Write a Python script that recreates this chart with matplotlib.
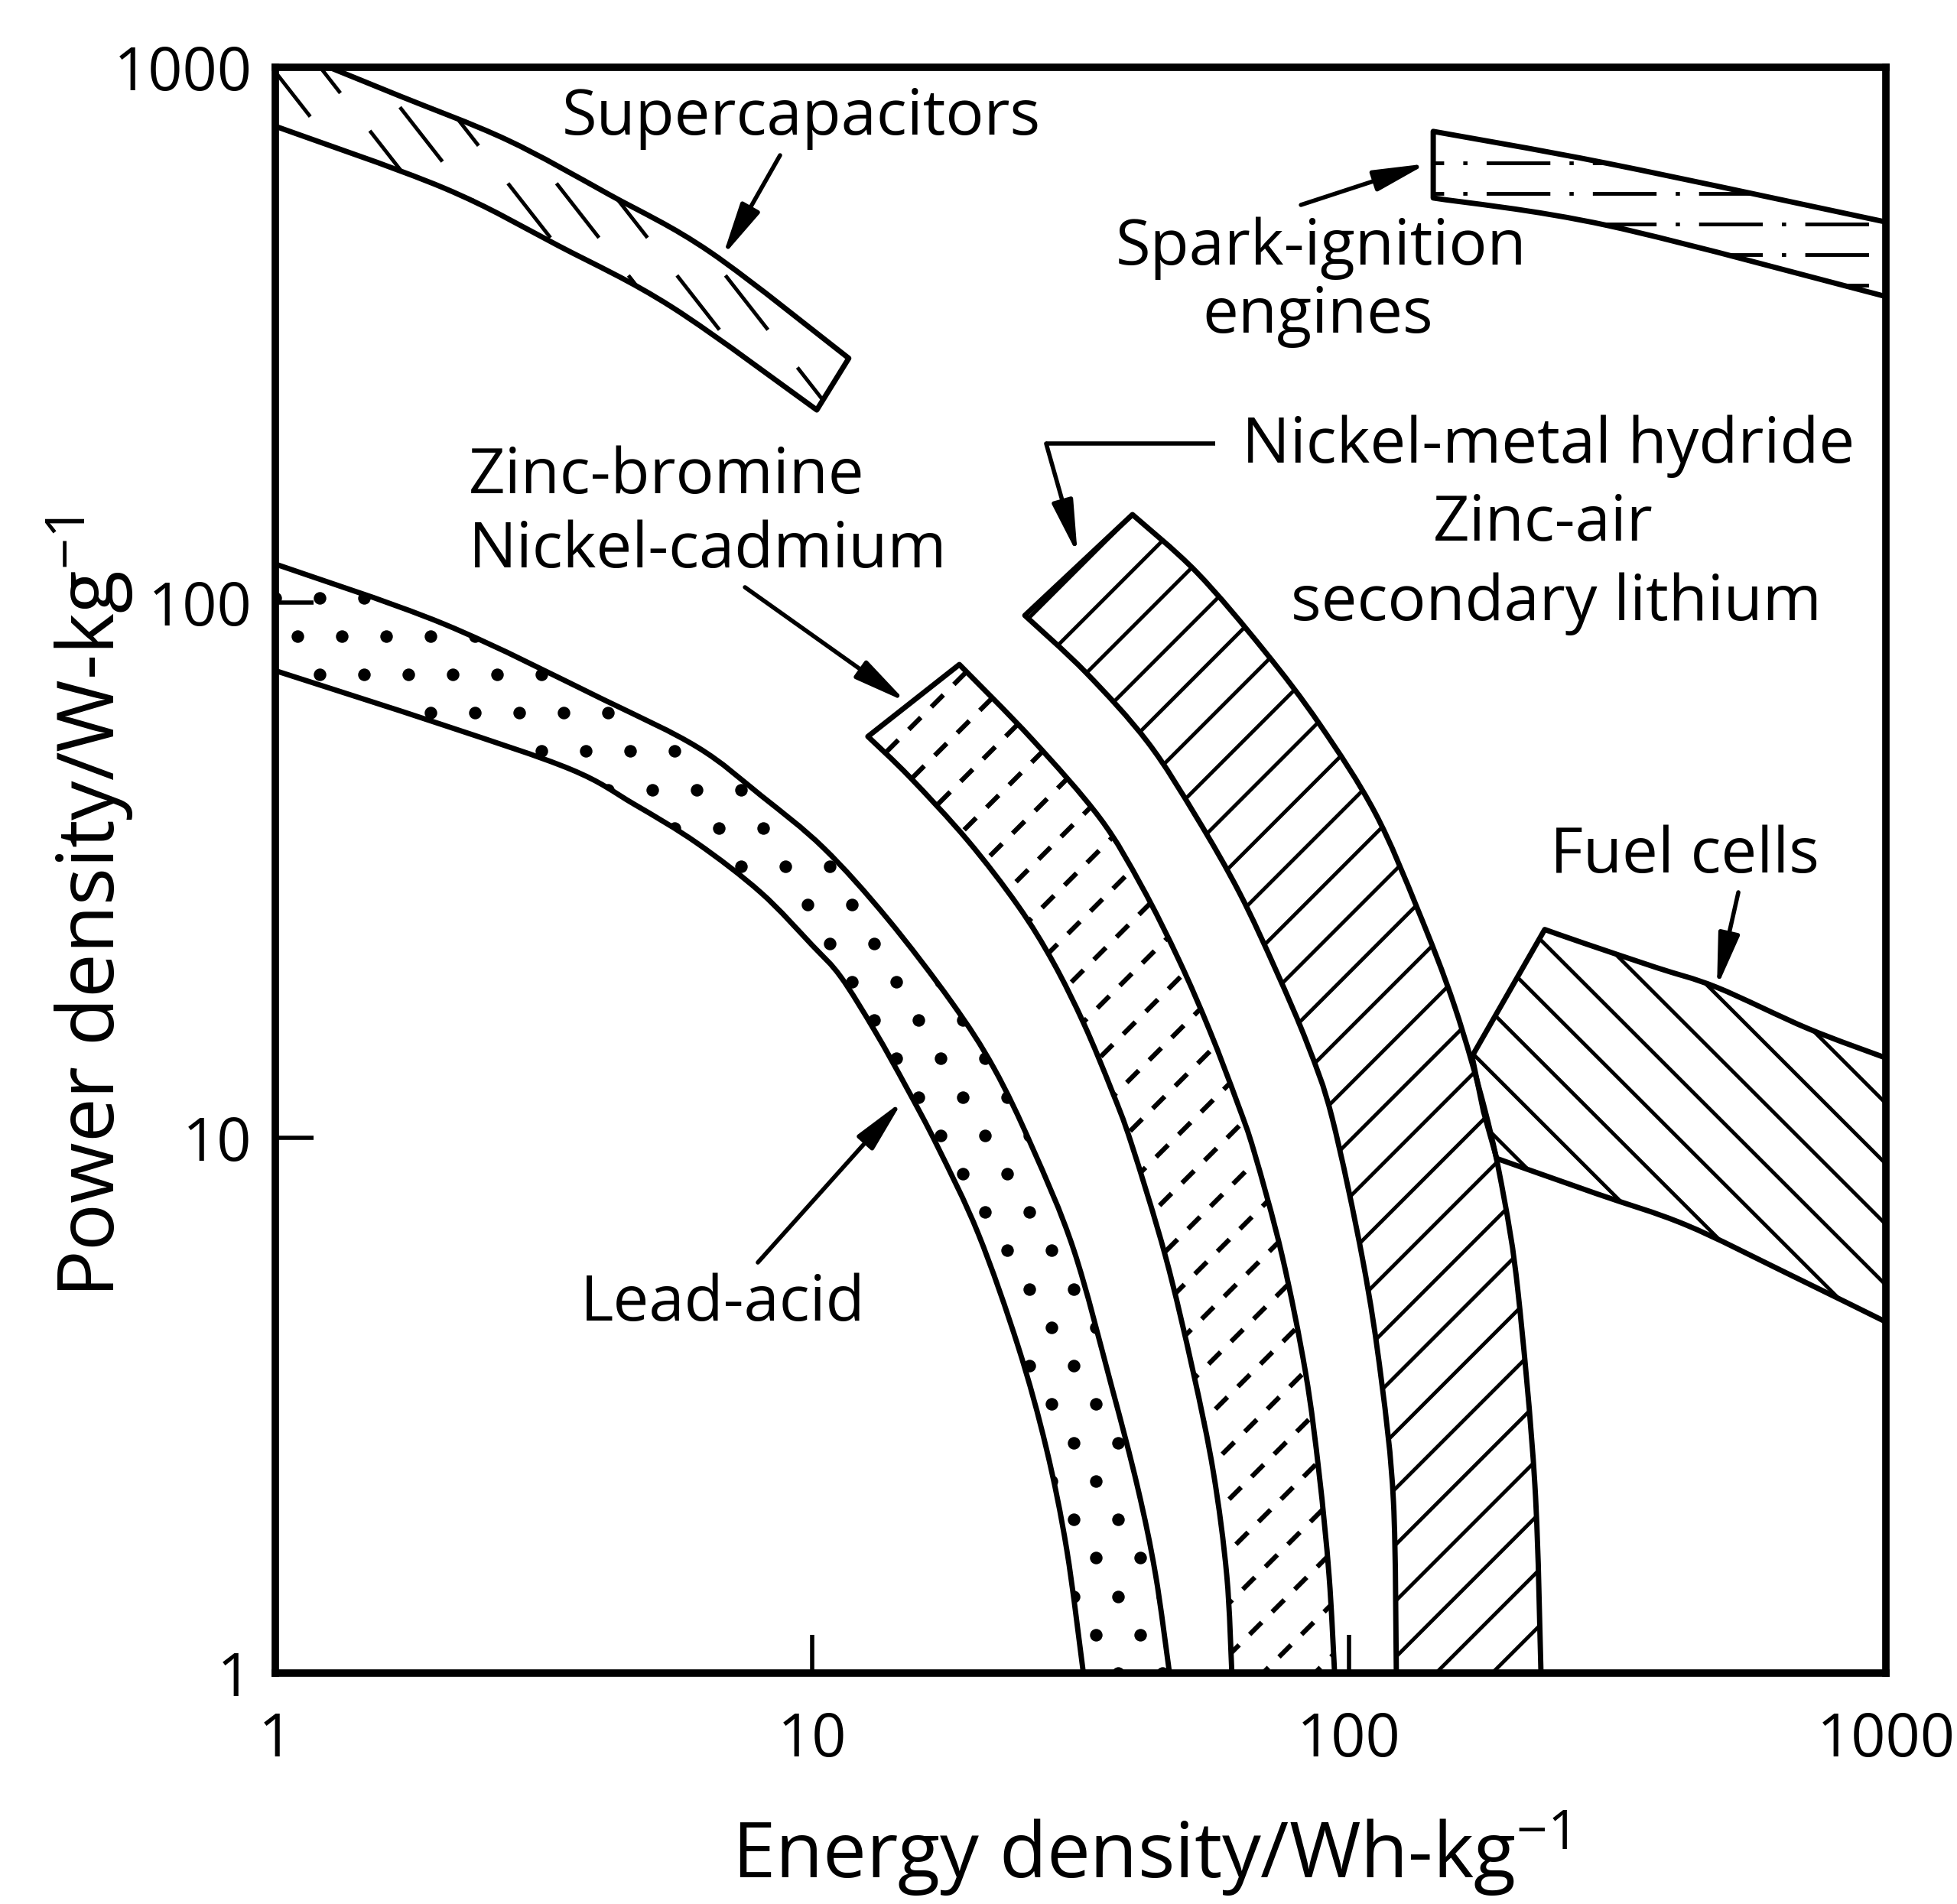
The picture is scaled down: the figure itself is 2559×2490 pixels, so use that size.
import numpy as np
import matplotlib.pyplot as plt
from matplotlib.patches import PathPatch
from matplotlib.path import Path
from matplotlib.collections import LineCollection
from matplotlib.ticker import NullLocator

plt.rcParams['font.family'] = ['Open Sans', 'DejaVu Sans']
plt.rcParams['font.weight'] = 500
plt.rcParams['mathtext.fontset'] = 'custom'
plt.rcParams['mathtext.rm'] = 'Open Sans:medium'
plt.rcParams['mathtext.it'] = 'Open Sans:medium'
plt.rcParams['mathtext.bf'] = 'Open Sans:bold'
plt.rcParams['lines.scale_dashes'] = False

# energy density (Wh/kg) and power density (W/kg)
lead_E_out = [1.0, 2.06, 4.07, 6.11, 8.03, 10.5, 13.8, 18.2, 21.8, 25.7, 30.7, 36.1, 40.4, 43.6, 46.3]
lead_P_out = [118, 91.2, 66.0, 53.7, 43.6, 34.8, 25.7, 17.9, 13.5, 9.6, 6.18, 3.44, 2.22, 1.53, 1.0]
lead_E_in = [1.0, 2.06, 3.55, 4.66, 6.11, 8.03, 10.0, 11.3, 13.1, 15.0, 17.1, 20.4, 24.2, 27.3, 29.8, 32.0]
lead_P_in = [74.6, 59.0, 48.8, 42.0, 35.5, 28.7, 22.9, 20.0, 15.8, 12.4, 9.66, 6.61, 4.07, 2.63, 1.70, 1.0]

nicd_E_out = [18.8, 25.7, 34.4, 41.1, 48.3, 55.1, 62.0, 66.6, 75.0, 83.0, 88.0, 91.8, 94.0]
nicd_P_out = [76.6, 55.5, 39.5, 29.5, 21.4, 15.8, 11.6, 9.40, 6.04, 3.64, 2.35, 1.52, 1.0]
nicd_E_in = [12.7, 15.2, 19.5, 24.2, 28.1, 32.1, 36.1, 39.3, 45.5, 51.2, 55.9, 59.2, 60.5]
nicd_P_in = [56.2, 47.2, 35.9, 27.1, 21.3, 16.3, 12.3, 9.77, 6.01, 3.67, 2.37, 1.52, 1.0]

nimh_E_out = [39.5, 52.0, 69.5, 88.3, 111.8, 134.3, 157.3, 179.4, 194, 206.4, 221.9, 227.8]
nimh_P_out = [146, 114, 81.3, 59.1, 40.5, 26.7, 17.6, 11.2, 7.81, 5.16, 2.25, 1.0]
nimh_E_in = [24.9, 32.4, 42.2, 52.0, 62.5, 73.2, 83.8, 93.0, 106.1, 114.8, 121.0, 122.5]
nimh_P_in = [94.6, 73.9, 54.8, 39.7, 28.7, 20.5, 14.9, 10.9, 5.9, 3.55, 2.09, 1.0]

supcap_E_up = [1.26, 1.70, 2.70, 4.18, 6.47, 11.7]
supcap_P_up = [1000, 885, 732, 579, 451, 286]
supcap_E_lo = [1.0, 2.06, 3.37, 5.49, 10.2]
supcap_P_lo = [776, 595, 464, 356, 229]

spark_E_up = [143.5, 304, 1000]
spark_P_up = [759, 661, 514]
spark_E_lo = [143.5, 304, 1000]
spark_P_lo = [570, 506, 373]

fuel_E_up = [231.5, 273.8, 373.7, 484.5, 716, 1000]
fuel_P_up = [24.5, 23.1, 20.8, 19.1, 16.0, 14.1]
fuel_E_lo = [188.4, 288.4, 424.9, 652.9, 1000]
fuel_P_lo = [9.15, 7.87, 6.87, 5.59, 4.53]
fuel_E_left = [178, 169.5]
fuel_P_left = [11.2, 14.2]

ticks = [1, 10, 100, 1000]
tick_labels = ['1', '10', '100', '1000']

fig = plt.figure(figsize=(25.59, 24.90), dpi=100)
ax = fig.add_axes([360 / 2559, 302 / 2490, 2106 / 2559, 2100 / 2490])
ax.set_xscale('log')
ax.set_yscale('log')
ax.set_xlim(1, 1000)
ax.set_ylim(1, 1000)
AX_W, AX_H = 2106, 2100

EDGE = 5
HLW = 3.5


def curve(E, P, first_code):
    # smooth (Catmull-Rom as cubic Bezier) through the read points, in log space
    q = np.column_stack([np.log10(E), np.log10(P)])
    n = len(q)
    verts, codes = [q[0]], [first_code]
    for i in range(n - 1):
        p0 = q[i - 1] if i > 0 else q[i]
        p3 = q[i + 2] if i + 2 < n else q[i + 1]
        verts += [q[i] + (q[i + 1] - p0) / 6, q[i + 1] - (p3 - q[i]) / 6, q[i + 1]]
        codes += [Path.CURVE4] * 3
    return list(10 ** np.array(verts)), codes


def band(E_a, P_a, E_b, P_b, E_x=(), P_x=()):
    v1, c1 = curve(E_a, P_a, Path.MOVETO)
    v2, c2 = curve(E_b[::-1], P_b[::-1], Path.LINETO)
    verts = v1 + v2 + [np.array([e, p]) for e, p in zip(E_x, P_x)] + [v1[0]]
    codes = c1 + c2 + [Path.LINETO] * len(E_x) + [Path.CLOSEPOLY]
    path = Path(np.array(verts), codes)
    fill = PathPatch(path, facecolor='white', edgecolor='none', zorder=1)
    ax.add_patch(fill)
    edge = PathPatch(path, facecolor='none', edgecolor='black', lw=EDGE,
                     joinstyle='round', zorder=4)
    ax.add_patch(edge)
    return fill


def hatch(patch, angle, spacing, ls='solid', lw=HLW, phase=0.0):
    a = np.deg2rad(angle)
    d = np.array([np.cos(a), np.sin(a)])
    n = np.array([-np.sin(a), np.cos(a)])
    L = np.hypot(AX_W, AX_H)
    c = np.array([AX_W / 2, AX_H / 2])
    segs = []
    for t in np.arange(-L / 2 + phase, L / 2, spacing):
        p0 = c + t * n - d * L / 2
        p1 = c + t * n + d * L / 2
        segs.append([(p0[0] / AX_W, p0[1] / AX_H), (p1[0] / AX_W, p1[1] / AX_H)])
    lc = LineCollection(segs, colors='black', linewidths=lw, linestyles=ls,
                        transform=ax.transAxes, zorder=2, capstyle='butt')
    lc.set_clip_path(patch)
    ax.add_collection(lc)


def dots(patch, spacing, size):
    xs, ys = [], []
    row_h = spacing * np.sqrt(3) / 2
    for j, y in enumerate(np.arange(0, AX_H, row_h)):
        off = spacing / 2 if j % 2 else 0
        for x in np.arange(off, AX_W, spacing):
            xs.append(x / AX_W)
            ys.append(y / AX_H)
    sc = ax.scatter(xs, ys, s=size, c='black', linewidths=0, transform=ax.transAxes, zorder=2)
    sc.set_clip_path(patch)


# lead-acid
p = band(lead_E_out, lead_P_out, lead_E_in, lead_P_in)
dots(p, 58, 140)

# zinc-bromine / nickel-cadmium
p = band(nicd_E_out, nicd_P_out, nicd_E_in, nicd_P_in)
hatch(p, 45, 48, ls=(0, (16, 14)), lw=4.5)

# nickel-metal hydride / zinc-air / secondary lithium
p = band(nimh_E_out, nimh_P_out, nimh_E_in, nimh_P_in)
hatch(p, 45, 52)

# supercapacitors
p = band(supcap_E_up, supcap_P_up, supcap_E_lo, supcap_P_lo, [1.0], [1000])
hatch(p, -52, 50, ls=(0, (65, 45)))

# spark-ignition engines
p = band(spark_E_up, spark_P_up, spark_E_lo, spark_P_lo)
hatch(p, 0, 40, ls=(0, (60, 18, 4, 18)), phase=12)

# fuel cells
p = band(fuel_E_up, fuel_P_up, fuel_E_lo, fuel_P_lo, fuel_E_left, fuel_P_left)
hatch(p, -45, 56)

# axes
for s in ax.spines.values():
    s.set_linewidth(7)
    s.set_zorder(6)
ax.set_xticks(ticks, labels=tick_labels)
ax.set_yticks(ticks, labels=tick_labels)
ax.xaxis.set_minor_locator(NullLocator())
ax.yaxis.set_minor_locator(NullLocator())
ax.tick_params(axis='both', direction='in', length=36, width=4, labelsize=57,
               top=False, right=False)
ax.tick_params(axis='x', pad=35)
ax.tick_params(axis='y', pad=22)

ax.set_xlabel('Energy density/Wh-kg$^{-1}$', fontsize=73)
ax.xaxis.set_label_coords(0.543, -0.128)
ax.xaxis.label.set_va('baseline')
ax.set_ylabel('Power density/W-kg$^{-1}$', fontsize=74)
ax.yaxis.set_label_coords(-0.0997, 0.477)
ax.yaxis.label.set_va('baseline')

FS = 60
labels = [
    ('Supercapacitors', 0.3267, 0.9581, 'center'),
    ('Spark-ignition', 0.6491, 0.8771, 'center'),
    ('engines', 0.6472, 0.8348, 'center'),
    ('Zinc-bromine', 0.1201, 0.7348, 'left'),
    ('Nickel-cadmium', 0.1201, 0.6886, 'left'),
    ('Nickel-metal hydride', 0.7906, 0.7538, 'center'),
    ('Zinc-air', 0.7873, 0.7052, 'center'),
    ('secondary lithium', 0.7953, 0.6557, 'center'),
    ('Fuel cells', 0.8751, 0.4986, 'center'),
    ('Lead-acid', 0.2778, 0.2195, 'center'),
]
for txt, x, y, ha in labels:
    ax.text(x, y, txt, transform=ax.transAxes, fontsize=FS, ha=ha, va='baseline', zorder=7)

arrows = [
    ((0.3134, 0.9452), (0.2778, 0.8824)),
    ((0.6368, 0.9143), (0.7151, 0.9400)),
    ((0.2916, 0.6762), (0.3917, 0.6048)),
    ((0.4786, 0.7657), (0.4981, 0.6967)),
    ((0.9084, 0.4862), (0.8951, 0.4271)),
    ((0.2996, 0.2557), (0.3894, 0.3562)),
]
for start, end in arrows:
    ax.annotate('', xy=end, xycoords='axes fraction', xytext=start, textcoords='axes fraction',
                arrowprops=dict(arrowstyle='-|>,head_length=0.6,head_width=0.12',
                                mutation_scale=70, lw=4, color='black',
                                shrinkA=0, shrinkB=0), zorder=7)
ax.plot([0.5836, 0.4786], [0.7657, 0.7657], transform=ax.transAxes, color='black', lw=4,
        solid_capstyle='butt', zorder=7)

fig.savefig('out.png', dpi=100, facecolor='white')
